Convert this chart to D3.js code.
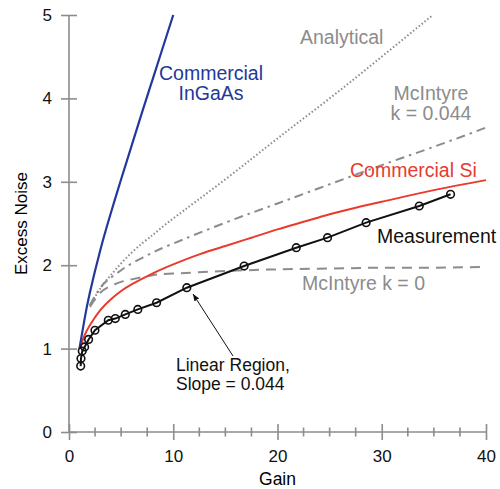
<!DOCTYPE html>
<html>
<head>
<meta charset="utf-8">
<script src="https://cdn.jsdelivr.net/npm/d3@7"></script>
<style>
  body { margin: 0; background: white; }
  text { font-family: "Liberation Sans", Arial, Helvetica, sans-serif; }
</style>
</head>
<body>
<div id="chart"></div>
<script>
// Measurement (circles joined by straight segments)
var measGain  = [1.12, 1.15, 1.27, 1.5, 1.88, 2.49, 3.77, 4.44, 5.4, 6.6, 8.4, 11.3, 16.8, 21.8, 24.8, 28.5, 33.6, 36.6];
var measNoise = [0.79, 0.88, 0.97, 1.02, 1.11, 1.22, 1.34, 1.36, 1.41, 1.47, 1.55, 1.73, 1.99, 2.21, 2.33, 2.51, 2.71, 2.85];

// Commercial Si
var siGain  = [1, 1.5, 2, 3, 4, 5, 6, 8, 10, 12.5, 15, 17.5, 20, 22.5, 25, 27.5, 30, 35, 40];
var siNoise = [1.0, 1.16, 1.28, 1.46, 1.59, 1.69, 1.77, 1.9, 2.01, 2.13, 2.23, 2.33, 2.43, 2.52, 2.61, 2.69, 2.76, 2.9, 3.02];

// Commercial InGaAs
var ingaasGain  = [1, 1.5, 2, 3, 4, 5, 6, 7, 8, 9, 10];
var ingaasNoise = [1.0, 1.36, 1.67, 2.18, 2.62, 3.03, 3.43, 3.83, 4.22, 4.61, 5.0];

// Analytical
var anaGain  = [2, 3, 4, 6, 8, 10, 15, 20, 25, 30, 34.9];
var anaNoise = [1.52, 1.72, 1.88, 2.15, 2.36, 2.56, 3.03, 3.52, 4.0, 4.5, 5.0];

// McIntyre curves
var mcGain    = [2, 3, 4, 5, 6, 8, 10, 15, 20, 25, 30, 35, 40];
var mc044Noise = [1.52, 1.73, 1.85, 1.94, 2.02, 2.15, 2.26, 2.51, 2.74, 2.97, 3.2, 3.42, 3.65];
var mc0Noise   = [1.5, 1.67, 1.75, 1.8, 1.83, 1.88, 1.9, 1.93, 1.95, 1.96, 1.97, 1.97, 1.98];

// Axis ticks
var xTicks = [0, 10, 20, 30, 40];
var xMinor = [2.5, 5, 7.5, 12.5, 15, 17.5, 22.5, 25, 27.5, 32.5, 35, 37.5];
var yTicks = [0, 1, 2, 3, 4, 5];

document.addEventListener('DOMContentLoaded', function () {
    drawChart();
});

function zip(a, b) {
    return a.map(function (d, i) { return { g: d, n: b[i] }; });
}

function drawChart() {
    var W = 500, H = 489;
    var gray = "#8c8c8c";
    var blue = "#24389a";
    var red = "#ea3a2e";

    var svg = d3.select("#chart")
        .append("svg")
        .attr("width", W)
        .attr("height", H);

    var x = d3.scaleLinear().domain([0, 40]).range([69, 486]);
    var y = d3.scaleLinear().domain([0, 5]).range([432, 15]);

    // x axis, ticks cross the line
    var xAxis = svg.append("g")
        .attr("transform", "translate(0," + y(0) + ")")
        .call(d3.axisBottom(x).tickValues(xTicks).tickFormat(d3.format("d")).tickSize(8).tickPadding(10));
    xAxis.selectAll(".tick line").attr("y1", -8).attr("y2", 8);
    xAxis.selectAll(".minor")
        .data(xMinor)
        .enter().append("line")
        .attr("class", "minor")
        .attr("x1", function (d) { return x(d); })
        .attr("x2", function (d) { return x(d); })
        .attr("y1", -4.5)
        .attr("y2", 4.5);

    // y axis
    var yAxis = svg.append("g")
        .attr("transform", "translate(" + x(0) + ",0)")
        .call(d3.axisLeft(y).tickValues(yTicks).tickFormat(d3.format("d")).tickSize(8).tickPadding(9));
    yAxis.selectAll(".tick line").attr("x1", -8).attr("x2", 8);

    svg.selectAll(".domain").remove();
    xAxis.append("line").attr("x1", x(0)).attr("x2", x(40));
    yAxis.append("line").attr("y1", y(0)).attr("y2", y(5));
    svg.selectAll(".tick line, .minor, g > line")
        .attr("stroke", gray)
        .attr("stroke-width", 1.6);
    svg.selectAll(".tick text")
        .style("font-family", "'Liberation Sans', Arial, sans-serif")
        .style("font-size", "17px")
        .attr("fill", "#111");

    // axis titles
    svg.append("text")
        .attr("x", (x(0) + x(40)) / 2)
        .attr("y", 485)
        .attr("text-anchor", "middle")
        .style("font-size", "17.5px")
        .text("Gain");

    svg.append("text")
        .attr("transform", "translate(27," + ((y(0) + y(5)) / 2) + ") rotate(-90)")
        .attr("text-anchor", "middle")
        .style("font-size", "17px")
        .text("Excess Noise");

    var line = d3.line()
        .x(function (d) { return x(d.g); })
        .y(function (d) { return y(d.n); })
        .curve(d3.curveNatural);

    // gray model curves
    svg.append("path")
        .datum(zip(mcGain, mc0Noise))
        .attr("d", line)
        .attr("fill", "none")
        .attr("stroke", gray)
        .attr("stroke-width", 2)
        .attr("stroke-dasharray", "10,7");

    svg.append("path")
        .datum(zip(mcGain, mc044Noise))
        .attr("d", line)
        .attr("fill", "none")
        .attr("stroke", gray)
        .attr("stroke-width", 2)
        .attr("stroke-dasharray", "9,5,2.5,5");

    svg.append("path")
        .datum(zip(anaGain, anaNoise))
        .attr("d", line)
        .attr("fill", "none")
        .attr("stroke", gray)
        .attr("stroke-width", 2)
        .attr("stroke-dasharray", "1.5,2.2");

    // commercial devices
    svg.append("path")
        .datum(zip(siGain, siNoise))
        .attr("d", line)
        .attr("fill", "none")
        .attr("stroke", red)
        .attr("stroke-width", 2);

    svg.append("path")
        .datum(zip(ingaasGain, ingaasNoise))
        .attr("d", line)
        .attr("fill", "none")
        .attr("stroke", blue)
        .attr("stroke-width", 2.2);

    // measurement
    var meas = zip(measGain, measNoise);
    svg.append("path")
        .datum(meas)
        .attr("d", d3.line().x(function (d) { return x(d.g); }).y(function (d) { return y(d.n); }))
        .attr("fill", "none")
        .attr("stroke", "#111")
        .attr("stroke-width", 2);

    svg.selectAll(".pt")
        .data(meas)
        .enter().append("circle")
        .attr("class", "pt")
        .attr("cx", function (d) { return x(d.g); })
        .attr("cy", function (d) { return y(d.n); })
        .attr("r", 3.8)
        .attr("fill", "none")
        .attr("stroke", "#111")
        .attr("stroke-width", 1.6);

    // labels
    function label(tx, ty, txt, color, anchor, size) {
        svg.append("text")
            .attr("x", tx)
            .attr("y", ty)
            .attr("text-anchor", anchor || "start")
            .attr("fill", color)
            .style("font-size", (size || 19.5) + "px")
            .text(txt);
    }
    label(211, 80, "Commercial", blue, "middle");
    label(211, 100, "InGaAs", blue, "middle");
    label(300, 44, "Analytical", gray);
    label(431, 100, "McIntyre", gray, "middle");
    label(431, 120, "k = 0.044", gray, "middle");
    label(350, 177, "Commercial Si", red);
    label(377, 243, "Measurement", "#111");
    label(302, 290, "McIntyre k = 0", gray);
    label(176, 371, "Linear Region,", "#111", "start", 17.5);
    label(176, 390, "Slope = 0.044", "#111", "start", 17.5);

    // arrow pointing at the linear region
    svg.append("defs").append("marker")
        .attr("id", "arrow")
        .attr("viewBox", "0 0 10 10")
        .attr("refX", 10)
        .attr("refY", 5)
        .attr("markerWidth", 7)
        .attr("markerHeight", 7)
        .attr("orient", "auto")
        .append("path")
        .attr("d", "M0,1 L10,5 L0,9 Z")
        .attr("fill", "#111");

    svg.append("line")
        .attr("x1", 233)
        .attr("y1", 356)
        .attr("x2", 193)
        .attr("y2", 294)
        .attr("stroke", "#111")
        .attr("stroke-width", 1)
        .attr("marker-end", "url(#arrow)");
}
</script>
</body>
</html>
